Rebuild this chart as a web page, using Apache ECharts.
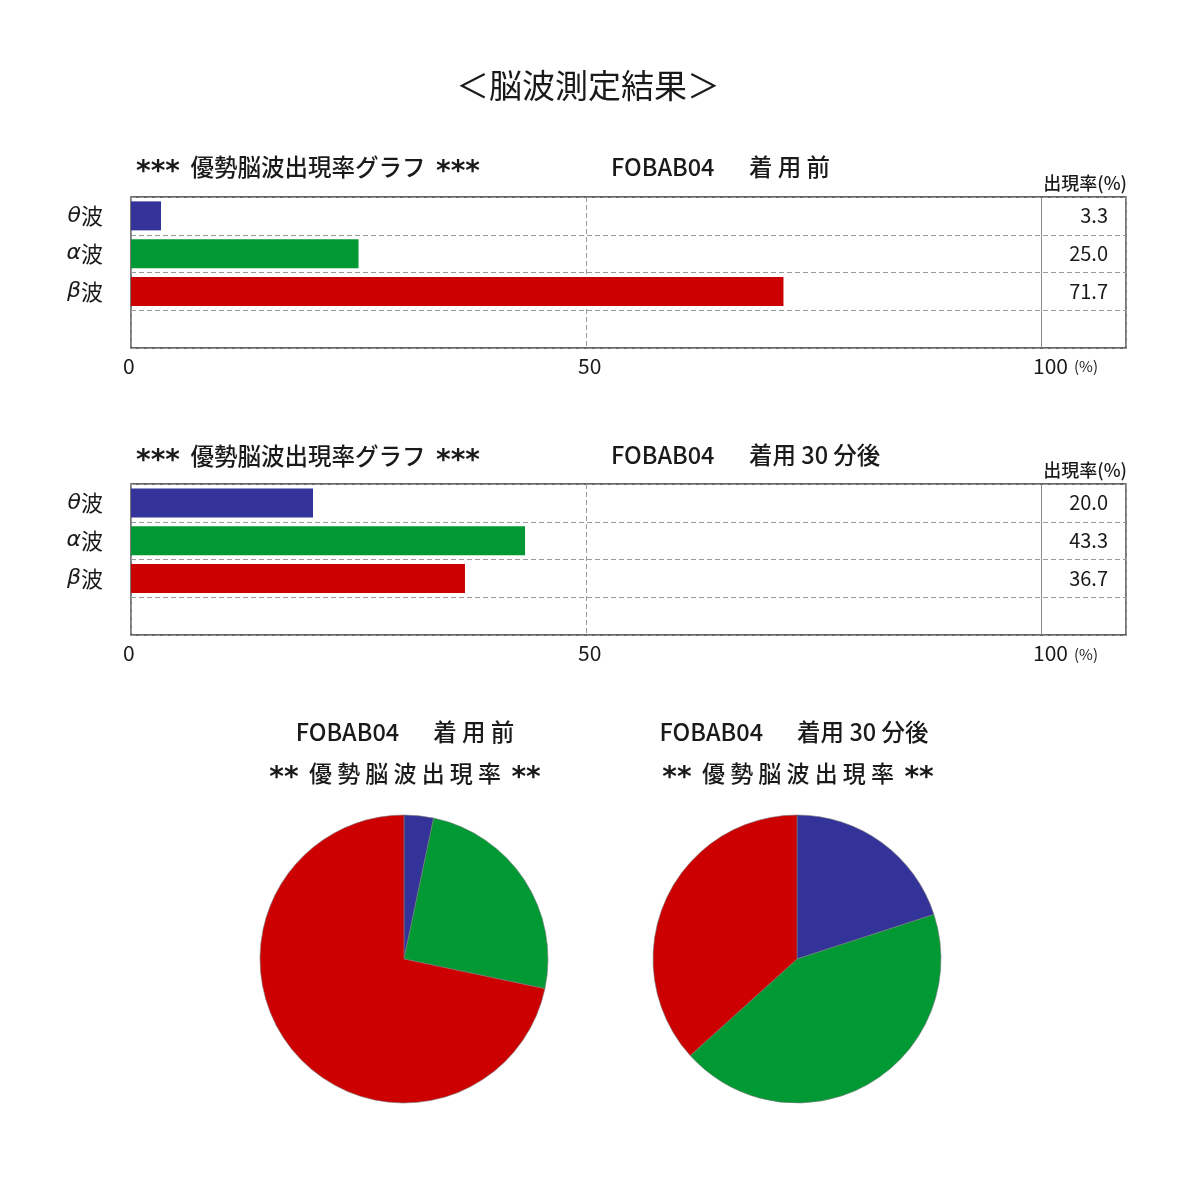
<!DOCTYPE html>
<html>
<head>
<meta charset="utf-8">
<script src="https://cdn.jsdelivr.net/npm/echarts@6/dist/echarts.min.js"></script>
<style>
html,body{margin:0;padding:0;background:#fff;}
#c{width:1177px;height:1177px;}
</style>
</head>
<body>
<div id="c"></div>
<script>
// ---- data ----
const categories = ['θ波', 'α波', 'β波'];
const valuesBefore = [3.3, 25.0, 71.7];
const valuesAfter = [20.0, 43.3, 36.7];
const waveColors = ['#333399', '#009933', '#cc0000'];
const xTickLabels = [0, 50, 100];
const mainTitle = '＜脳波測定結果＞';
const barTitleText = '優勢脳波出現率グラフ';
const sampleId = 'FOBAB04';
const condBefore = '着 用 前';
const condAfter = '着用 30 分後';
const pieSubTitleText = '優 勢 脳 波 出 現 率';
const rateHeader = '出現率(%)';

// ---- layout ----
const FONT = '"Noto Sans CJK JP", "Noto Sans", sans-serif';
const TXT = '#1a1a1a';
const gridLeft = 131, gridRight = 1126, grid1Top = 197, grid2Top = 484, gridH = 151;
const x100 = 1041;
const xMax = 100 * (gridRight - gridLeft) / (x100 - gridLeft);

const chart = echarts.init(document.getElementById('c'), null, {renderer: 'canvas'});

function catData() { return categories.concat(['']); }

function xAxisFor(gi) {
  return {
    type: 'value', gridIndex: gi, min: 0, max: xMax, interval: 50,
    axisLine: {show: false}, axisTick: {show: false},
    splitLine: {show: true, lineStyle: {color: '#9a9a9a', type: [5, 3], width: 1}},
    axisLabel: {
      margin: 8, fontSize: 21, color: TXT, fontFamily: FONT, showMaxLabel: false,
      align: 'left', padding: [0, 0, 0, -8],
      formatter: v => xTickLabels.indexOf(v) >= 0 ? String(v) : ''
    }
  };
}
function yLeftFor(gi) {
  return {
    type: 'category', gridIndex: gi, inverse: true, data: catData(),
    axisLine: {show: false}, axisTick: {show: false},
    splitLine: {show: true, interval: 0, lineStyle: {color: '#9a9a9a', type: [5, 3], width: 1}},
    axisLabel: {
      interval: 0, margin: 28, color: TXT,
      formatter: v => v ? '{g|' + v[0] + '}{w|' + v.slice(1) + '}' : '',
      rich: {
        g: {fontSize: 22, fontStyle: 'italic', fontFamily: '"DejaVu Sans", sans-serif', color: TXT},
        w: {fontSize: 22, fontFamily: FONT, color: TXT}
      }
    }
  };
}
function yRightFor(gi, vals) {
  return {
    type: 'category', gridIndex: gi, inverse: true, position: 'right',
    data: vals.map(v => v.toFixed(1)).concat(['']),
    axisLine: {show: false}, axisTick: {show: false}, splitLine: {show: false},
    axisLabel: {inside: true, interval: 0, margin: 18, fontSize: 20, color: TXT, fontFamily: FONT}
  };
}
function barSeries(gi, vals) {
  return {
    type: 'bar', xAxisIndex: gi, yAxisIndex: gi * 2, barWidth: 29,
    data: vals.map((v, i) => ({value: v, itemStyle: {color: waveColors[i]}})),
    silent: true,
    markLine: {
      silent: true, symbol: 'none', label: {show: false},
      lineStyle: {color: '#8a8a8a', type: 'solid', width: 1},
      data: [{xAxis: 100}]
    }
  };
}
function pieSeries(cx, vals) {
  return {
    type: 'pie', center: [cx, 959], radius: 144, startAngle: 90, clockwise: true,
    label: {show: false}, labelLine: {show: false}, silent: true,
    itemStyle: {borderColor: '#7a7a7a', borderWidth: 0.6},
    data: categories.map((n, i) => ({name: n, value: vals[i], itemStyle: {color: waveColors[i]}}))
  };
}
const starRich = {
  a: {fontFamily: '"DejaVu Sans", sans-serif', fontWeight: 'bold', fontSize: 28,
      color: TXT, padding: [11, 0, 0, 0]}
};
function txt(text, x, y, size, align, weight, rich) {
  const st = {text: text, fontSize: size, fontFamily: FONT, fill: TXT,
              fontWeight: weight || 'normal',
              align: align || 'left', textAlign: align || 'left',
              verticalAlign: 'middle', textVerticalAlign: 'middle'};
  if (rich) st.rich = rich;
  return {type: 'text', x: x, y: y, silent: true, style: st};
}
const barTitle = '{a|***}  ' + barTitleText + '  {a|***}';
const pieSubTitle = '{a|**}  ' + pieSubTitleText + '  {a|**}';

const option = {
  backgroundColor: '#fff',
  animation: false,
  grid: [
    {left: gridLeft, top: grid1Top, width: gridRight - gridLeft, height: gridH, show: true,
     borderColor: '#333', borderWidth: 1.3, backgroundColor: 'transparent', containLabel: false},
    {left: gridLeft, top: grid2Top, width: gridRight - gridLeft, height: gridH, show: true,
     borderColor: '#333', borderWidth: 1.3, backgroundColor: 'transparent', containLabel: false}
  ],
  xAxis: [xAxisFor(0), xAxisFor(1)],
  yAxis: [yLeftFor(0), yRightFor(0, valuesBefore), yLeftFor(1), yRightFor(1, valuesAfter)],
  series: [
    barSeries(0, valuesBefore),
    barSeries(1, valuesAfter),
    pieSeries(404, valuesBefore),
    pieSeries(797, valuesAfter)
  ],
  graphic: [
    txt(mainTitle, 588, 85, 33, 'center'),
    txt(barTitle, 136, 167, 23.5, 'left', 500, starRich),
    txt(sampleId, 611, 167, 23.5, 'left', 500),
    txt(condBefore, 749, 167, 23.5, 'left', 500),
    txt(rateHeader, 1127, 183, 18, 'right', 500),
    txt('(%)', 1074, 366, 15),
    txt(barTitle, 136, 456, 23.5, 'left', 500, starRich),
    txt(sampleId, 611, 455, 23.5, 'left', 500),
    txt(condAfter, 749, 455, 23.5, 'left', 500),
    txt(rateHeader, 1127, 470, 18, 'right', 500),
    txt('(%)', 1074, 654, 15),
    txt(sampleId + '　  ' + condBefore, 405, 732, 23.5, 'center', 500),
    txt(pieSubTitle, 405, 773, 23, 'center', 500, starRich),
    txt(sampleId + '　  ' + condAfter, 794, 732, 23.5, 'center', 500),
    txt(pieSubTitle, 798, 773, 23, 'center', 500, starRich)
  ]
};
chart.setOption(option);
</script>
</body>
</html>
